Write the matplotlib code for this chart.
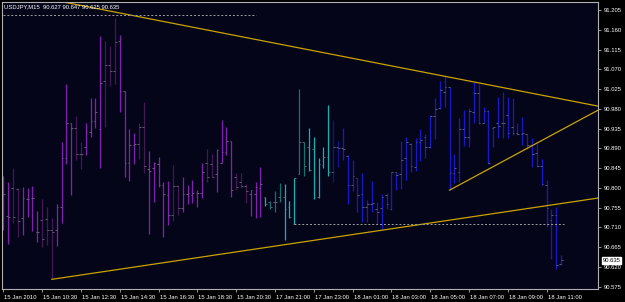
import numpy as np
import matplotlib
matplotlib.use("Agg")
import matplotlib.pyplot as plt

# USDJPY M15 bars
opens = [90.786, 90.736, 90.800, 90.797, 90.731, 90.775, 90.777, 90.700, 90.727, 90.729,
         90.704, 90.704, 90.756, 90.868, 90.948, 90.936, 90.877, 90.893, 90.927, 90.952,
         90.934, 91.043, 91.080, 91.066, 91.134, 91.021, 90.857, 90.898, 90.900, 90.939,
         90.843, 90.845, 90.854, 90.807, 90.784, 90.738, 90.804, 90.754, 90.786, 90.784,
         90.788, 90.788, 90.857, 90.854, 90.832, 90.857, 90.882, 90.907, 90.825, 90.813,
         90.804, 90.786, 90.786, 90.800, 90.779, 90.768, 90.768, 90.779, 90.779, 90.756,
         90.718, 90.832, 90.904, 90.893, 90.889, 90.779, 90.852, 90.870, 90.836, 90.893,
         90.891, 90.873, 90.807, 90.822, 90.786, 90.756, 90.763, 90.752, 90.754, 90.784,
         90.752, 90.836, 90.832, 90.868, 90.900, 90.848, 90.904, 90.916, 90.893, 90.964,
         90.982, 91.018, 91.030, 90.834, 90.836, 90.934, 90.916, 90.973, 91.016, 90.948,
         90.975, 90.936, 90.948, 90.948, 90.966, 90.939, 90.925, 90.923, 90.923, 90.898,
         90.879, 90.850, 90.807, 90.727, 90.738, 90.627]
highs = [90.827, 90.813, 90.845, 90.800, 90.802, 90.800, 90.804, 90.747, 90.775, 90.756,
         90.731, 90.763, 90.904, 91.037, 90.948, 90.964, 90.904, 90.948, 91.005, 91.005,
         91.146, 91.134, 91.123, 91.187, 91.148, 91.021, 90.934, 90.925, 90.948, 90.996,
         90.884, 90.859, 90.870, 90.813, 90.816, 90.852, 90.807, 90.825, 90.807, 90.818,
         90.795, 90.857, 90.889, 90.877, 90.889, 90.955, 90.939, 90.907, 90.834, 90.834,
         90.809, 90.795, 90.813, 90.848, 90.779, 90.770, 90.793, 90.811, 90.809, 90.770,
         90.822, 91.025, 90.904, 90.936, 90.916, 90.868, 90.893, 90.989, 90.955, 90.907,
         90.936, 90.875, 90.864, 90.822, 90.834, 90.772, 90.816, 90.768, 90.786, 90.788,
         90.836, 90.836, 90.907, 90.916, 90.902, 90.914, 90.934, 90.923, 90.966, 91.005,
         91.043, 91.057, 91.030, 90.877, 90.959, 90.977, 90.982, 91.041, 91.037, 90.984,
         90.977, 90.939, 91.007, 91.018, 91.007, 91.005, 90.948, 90.961, 90.923, 90.914,
         90.902, 90.866, 90.818, 90.752, 90.756, 90.647]
lows = [90.704, 90.672, 90.720, 90.688, 90.693, 90.734, 90.702, 90.677, 90.665, 90.670,
        90.592, 90.668, 90.720, 90.854, 90.784, 90.864, 90.843, 90.875, 90.916, 90.936,
        90.845, 90.939, 91.032, 91.037, 90.973, 90.825, 90.816, 90.854, 90.866, 90.834,
        90.695, 90.768, 90.802, 90.688, 90.716, 90.725, 90.738, 90.745, 90.763, 90.766,
        90.756, 90.777, 90.813, 90.825, 90.791, 90.857, 90.875, 90.779, 90.795, 90.800,
        90.766, 90.736, 90.731, 90.734, 90.759, 90.752, 90.745, 90.768, 90.681, 90.731,
        90.718, 90.832, 90.827, 90.838, 90.775, 90.777, 90.845, 90.827, 90.813, 90.848,
        90.864, 90.763, 90.793, 90.745, 90.722, 90.722, 90.745, 90.718, 90.704, 90.752,
        90.750, 90.795, 90.797, 90.818, 90.836, 90.838, 90.861, 90.868, 90.891, 90.911,
        90.980, 90.984, 90.795, 90.811, 90.813, 90.895, 90.893, 90.948, 90.945, 90.948,
        90.854, 90.893, 90.914, 90.914, 90.914, 90.920, 90.920, 90.898, 90.889, 90.848,
        90.848, 90.807, 90.711, 90.638, 90.615, 90.625]
closes = [90.786, 90.734, 90.734, 90.725, 90.777, 90.775, 90.777, 90.700, 90.684, 90.704,
          90.700, 90.756, 90.868, 90.948, 90.936, 90.877, 90.877, 90.927, 90.952, 90.973,
          91.039, 91.080, 91.066, 91.132, 91.021, 90.857, 90.898, 90.900, 90.939, 90.850,
          90.838, 90.857, 90.807, 90.786, 90.738, 90.804, 90.754, 90.786, 90.788, 90.788,
          90.788, 90.836, 90.825, 90.825, 90.886, 90.882, 90.907, 90.795, 90.802, 90.804,
          90.793, 90.795, 90.802, 90.809, 90.763, 90.756, 90.768, 90.772, 90.752, 90.734,
          90.822, 90.904, 90.850, 90.841, 90.779, 90.854, 90.870, 90.836, 90.893, 90.891,
          90.889, 90.807, 90.827, 90.784, 90.756, 90.763, 90.766, 90.745, 90.779, 90.763,
          90.836, 90.829, 90.864, 90.904, 90.850, 90.904, 90.909, 90.893, 90.964, 90.980,
          91.023, 91.030, 90.834, 90.845, 90.934, 90.916, 90.975, 91.016, 90.948, 90.975,
          90.857, 90.939, 90.941, 90.948, 90.925, 90.925, 90.923, 90.925, 90.898, 90.877,
          90.850, 90.809, 90.754, 90.738, 90.624, 90.635]
# bar colouring of the indicator: P purple, D dark purple, T cyan, t dark teal, B blue, b dark blue
kinds = ("PPDDPPPPDDDP" "PPPDDPPPPDDD" "PPPPDDPPPPPDDPPPPP" "DDPPPPDDDPPP"
         "TtttTTTttTTTTT" "bb" + "B" * 46)

time_labels = ["15 Jan 2010", "15 Jan 10:30", "15 Jan 12:30", "15 Jan 14:30", "15 Jan 16:30",
               "15 Jan 18:30", "15 Jan 20:30", "17 Jan 21:00", "17 Jan 23:00", "18 Jan 01:00",
               "18 Jan 03:00", "18 Jan 05:00", "18 Jan 07:00", "18 Jan 09:00", "18 Jan 11:00"]
price_ticks = [91.205, 91.160, 91.115, 91.070, 91.025, 90.980, 90.935, 90.890, 90.845,
               90.800, 90.755, 90.710, 90.665, 90.620, 90.575]

# trend lines (start bar, start price, bar, price) and dotted levels
trend_lines = [(12, 91.224, 116.2, 91.000),
               (10, 90.592, 122.6, 90.777),
               (92, 90.795, 122.6, 90.977)]
levels = [(0, 52, 91.194), (60, 115.5, 90.718)]

palette = {"P": "#8220b0", "D": "#441852", "T": "#10b4b4", "t": "#12746e",
           "B": "#1818c8", "b": "#121292"}

W, H = 625, 302
fig = plt.figure(figsize=(W / 100, H / 100), dpi=100)
fig.patch.set_facecolor("black")
ax = fig.add_axes([2 / W, 13 / H, 596 / W, 287 / H])
ax.set_facecolor("#05051a")
ax.set_xlim(-0.27, 122.6)
ax.set_ylim(90.570, 91.2232)

x = np.arange(len(opens))
cols = [palette[k] for k in kinds]
ax.vlines(x, lows, highs, colors=cols, linewidth=0.9)
ax.hlines(opens, x - 0.35, x, colors="#6c6c7c", linewidth=0.6)
ax.hlines(closes, x, x + 0.35, colors="#6c6c7c", linewidth=0.6)

for x0, y0, x1, y1 in trend_lines:
    slope = (y1 - y0) / (x1 - x0)
    xe = 130
    ax.plot([x0, xe], [y0, y0 + slope * (xe - x0)], color="#c8a400", linewidth=0.9)

for a, b, lev in levels:
    ax.hlines(lev, a, b, colors="#a0a0a0", linewidth=0.7, linestyles=(0, (2, 2)))

for s in ax.spines.values():
    s.set_color("#b0b0b0")
    s.set_linewidth(0.8)

font = dict(family="Liberation Sans", size=4.2, color="white")
ax.yaxis.tick_right()
ax.set_yticks(price_ticks)
ax.set_yticklabels([f"{p:.3f}" for p in price_ticks], **font)
ax.tick_params(axis="y", length=2.5, width=0.6, color="#b0b0b0", pad=2)

ax.set_xticks(np.arange(len(time_labels)) * 8)
ax.set_xticklabels([])
ax.tick_params(axis="x", length=2.5, width=0.6, color="#b0b0b0")
for i, lab in enumerate(time_labels):
    ax.annotate(lab, (i * 8, 0), xycoords=("data", "axes fraction"),
                xytext=(0.8, -6.0), textcoords="offset points",
                ha="left", va="center", **font)

ax.text(0.004, 0.985, "USDJPY,M15  %.3f %.3f %.3f %.3f" % (opens[-1], highs[-1], lows[-1], closes[-1]),
        transform=ax.transAxes, ha="left", va="center", **font)

# current price box on the price scale
ax.annotate(f"{closes[-1]:.3f}", (1, closes[-1]), xycoords=("axes fraction", "data"),
            xytext=(3.3, 0), textcoords="offset points", ha="left", va="center",
            family="Liberation Sans", size=4.2, color="black",
            bbox=dict(boxstyle="square,pad=0.15", fc="white", ec="white"))

fig.savefig("out.png", dpi=100, facecolor=fig.get_facecolor())
